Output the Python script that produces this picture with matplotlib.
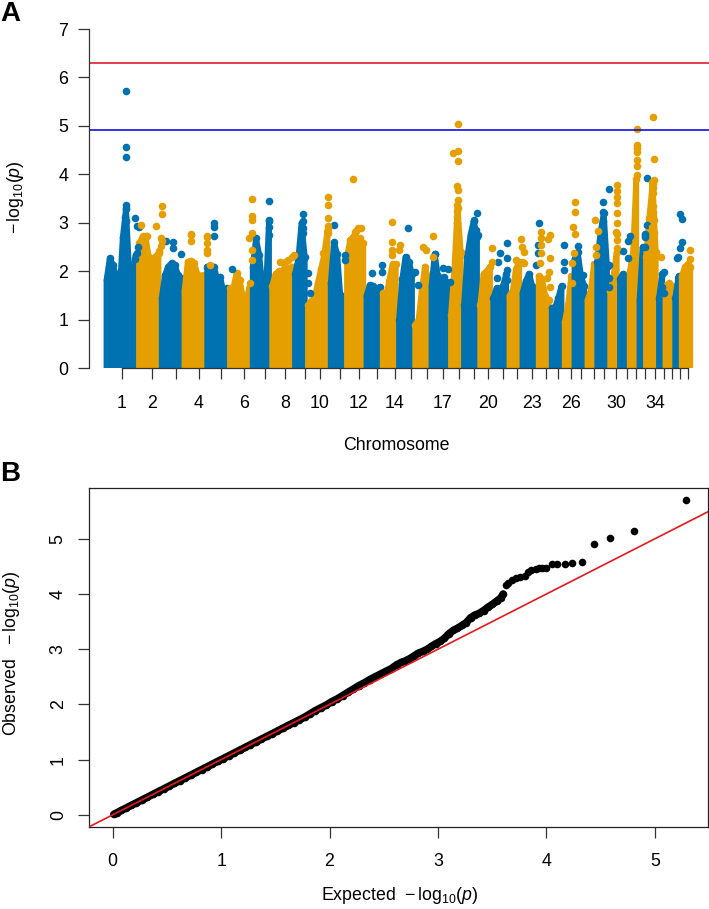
#!/bin/python3

# Manhattan plot and QQ plot.

import numpy as np
import matplotlib
matplotlib.use("Agg")
import matplotlib.pyplot as plt

plt.rcParams['font.family'] = ['Liberation Sans', 'DejaVu Sans']
plt.rcParams['mathtext.fontset'] = 'custom'
plt.rcParams['mathtext.rm'] = 'Liberation Sans'
plt.rcParams['mathtext.it'] = 'Liberation Sans:italic'
plt.rcParams['mathtext.bf'] = 'Liberation Sans:bold'

BLUE = '#0072B2'
ORANGE = '#E69F00'
DARK = '#333333'

# Chromosome sizes (Mb) and tick positions on the genome axis
chrom_len = [131, 96, 92, 96, 92, 84, 84, 80, 64, 80, 76, 72, 68, 68, 64, 64, 72, 56, 58, 62,
             54, 62, 56, 52, 56, 40, 48, 44, 46, 42, 40, 40, 32, 44, 32, 32, 32, 52]
chrom_ticks = [75, 195, 291, 383, 471, 563, 647, 727, 807, 867, 947, 1023, 1095, 1167, 1231,
               1295, 1359, 1423, 1483, 1539, 1599, 1655, 1715, 1771, 1819, 1871, 1911, 1963,
               2003, 2051, 2095, 2131, 2167, 2207, 2243, 2275, 2307, 2339]
chrom_labels = ['1', '2', '', '4', '', '6', '', '8', '', '10', '', '12', '', '14', '', '', '17',
                '', '', '20', '', '', '23', '', '', '26', '', '', '', '30', '', '', '', '34',
                '', '', '', '']

# Top of the dense cloud of SNPs along the genome
profile_pos = [13, 26, 39, 52, 65, 78, 91, 104, 117, 130, 143, 156, 169, 182, 195, 208, 221, 234,
               247, 260, 273, 286, 299, 312, 325, 338, 351, 364, 377, 390, 403, 416, 429, 442,
               455, 468, 481, 494, 507, 520, 533, 546, 559, 572, 585, 598, 611, 624, 637, 650,
               663, 676, 689, 702, 715, 728, 741, 754, 767, 780, 793, 806, 819, 832, 845, 858,
               871, 884, 897, 910, 923, 936, 949, 962, 975, 988, 1001, 1014, 1027, 1040, 1053,
               1066, 1079, 1092, 1105, 1118, 1131, 1144, 1157, 1170, 1183, 1196, 1209, 1222,
               1235, 1248, 1261, 1274, 1287, 1300, 1313, 1326, 1339, 1352, 1365, 1378, 1391,
               1404, 1417, 1430, 1443, 1456, 1469, 1482, 1495, 1508, 1521, 1534, 1547, 1560,
               1573, 1586, 1599, 1612, 1625, 1638, 1651, 1664, 1677, 1690, 1703, 1716, 1729,
               1742, 1755, 1768, 1781, 1794, 1807, 1820, 1833, 1846, 1859, 1872, 1885, 1898,
               1911, 1924, 1937, 1950, 1963, 1976, 1989, 2002, 2015, 2028, 2041, 2054, 2067,
               2080, 2093, 2106, 2119, 2132, 2145, 2158, 2171, 2184, 2197, 2210, 2223, 2236,
               2249, 2262, 2275, 2288, 2301, 2314, 2327, 2340, 2348]
profile_top = [1.82, 2.27, 2.13, 1.90, 1.51, 2.7, 3.3, 1.95, 1.93, 2.34,
               2.58, 2.68, 2.72, 2.3, 1.68, 2.3, 2.37,
               1.45, 1.93, 2.1, 2.17, 2.13, 1.93, 1.86,
               1.6, 2.2, 2.22, 2.17, 1.93, 1.9, 1.93,
               2.1, 2.1, 2.1, 1.86, 1.89, 1.55, 1.65,
               1.65, 1.65, 1.96, 1.82, 1.44, 1.41, 1.68,
               2.1, 2.68, 2.34, 1.65, 1.51, 3.05,
               1.7, 1.95, 2.0, 2.0, 2.1, 2.05, 2.1,
               1.95, 2.25, 3.0, 2.3,
               1.3, 1.38, 1.45, 1.75, 2.05, 2.35, 2.85,
               1.75, 2.6, 2.35, 1.45, 1.5,
               2.3, 2.65, 2.72, 2.68, 2.68, 2.58,
               1.5, 1.72, 1.7, 1.62, 1.68,
               1.55, 1.5, 1.8, 2.15, 2.15,
               1.0, 1.85, 2.3, 2.2, 1.95,
               0.9, 1.0, 1.6, 2.1, 1.85,
               1.7, 2.35, 1.9, 1.65, 1.8, 1.75,
               1.1, 2.0, 3.3, 2.4,
               1.3, 2.3, 2.75, 3.05, 2.7,
               1.3, 1.95, 2.0, 2.1,
               1.45, 1.65, 1.6, 1.7, 1.95,
               1.5, 1.6, 2.05, 2.2,
               1.55, 1.8, 1.95, 1.7, 1.45,
               1.9, 1.85, 1.5, 1.4,
               1.25, 1.25, 1.45, 1.7,
               0.95, 1.3, 1.9,
               2.25, 2.4, 1.9, 1.7,
               1.4, 1.6, 2.15,
               2.2, 2.8, 3.2, 2.1,
               1.6, 1.9, 2.4,
               1.85, 1.95, 1.85,
               2.0, 2.35, 3.9,
               1.4, 2.5,
               2.3, 3.1, 3.8, 2.4,
               1.45, 1.95,
               1.7, 1.75, 1.7,
               1.45, 1.9,
               1.9, 2.1, 2.15, 2.1]

# SNPs standing clear of the cloud
blue_pos = [91, 91, 91, 91, 91, 87, 91, 87, 127, 136, 144, 250, 278, 278, 311, 140, 127, 136,
            442, 442, 442, 514, 620, 664, 664, 664, 664, 798, 798, 798, 798, 923, 817, 820, 827,
            967, 967, 1073, 1116, 1116, 1220, 1247, 1260, 1327, 1360, 1380, 1363, 1387,
            1493, 1483, 1491, 1500, 1587, 1613, 1616, 1580, 1573, 1613, 1613,
            1741, 1740, 1740, 1731, 1843, 1843, 1843, 1900, 1920,
            2000, 2000, 2000, 2000, 2024, 2024, 2024, 2024, 2080, 2107, 2100, 2100,
            2173, 2173, 2167, 2167, 2167, 2167, 2243, 2233, 2243,
            2306, 2313, 2313, 2307, 2300, 2293]
blue_val = [5.73, 4.57, 4.35, 3.37, 3.28, 3.13, 3.03, 2.85, 3.11, 2.94, 2.92, 2.63, 2.61, 2.48,
            2.36, 2.51, 2.25, 2.37, 3.0, 2.92, 2.72, 2.04, 2.34, 3.45, 3.03, 2.92, 2.75,
            3.18, 3.03, 2.89, 2.8, 2.96, 1.96, 1.75, 1.56, 2.24, 2.34,
            1.96, 2.13, 1.99, 2.89, 1.99, 1.72, 2.35, 2.06, 2.05, 1.89, 1.79,
            3.2, 3.03, 2.85, 2.76, 2.37, 2.58, 2.27, 2.2, 1.86, 2.03, 1.82,
            3.0, 2.54, 2.37, 2.13, 2.54, 2.2, 2.03, 2.52, 1.93,
            3.43, 3.23, 3.03, 2.82, 3.69, 2.14, 1.86, 1.68, 2.43, 2.72, 2.62, 2.27,
            3.93, 2.96, 2.78, 2.75, 2.7, 2.5, 1.99, 1.68, 1.55,
            3.19, 3.07, 2.61, 2.48, 2.3, 2.27]
orange_pos = [150, 160, 173, 234, 234, 212, 231, 234, 231, 224, 349, 351, 349, 416, 413, 413, 416,
              416, 427, 596, 596, 596, 596, 584, 596, 596, 587, 707, 727, 740, 754, 763,
              900, 900, 900, 900, 900, 880, 999, 1007, 1020, 1156, 1009, 1031, 1156, 1156, 1156,
              1187, 1184, 1320, 1280, 1291, 1320,
              1420, 1420, 1400, 1420, 1416, 1417, 1420, 1416, 1416, 1414, 1414, 1416,
              1553, 1553, 1671, 1673, 1683, 1649, 1649, 1675, 1683,
              1751, 1751, 1751, 1751, 1747, 1787, 1780, 1787, 1783, 1776, 1787,
              1885, 1885, 1880, 1888, 1883, 1873, 1873, 1968, 1979, 1971, 1971,
              2053, 2053, 2053, 2053, 2053, 2053, 2051, 2053, 2053, 2053,
              2134, 2134, 2134, 2134, 2134, 2134, 2134,
              2200, 2204, 2203, 2193, 2197, 2200, 2193, 2200, 2200, 2197, 2203, 2193, 2203,
              2229, 2345, 2345]
orange_val = [2.96, 2.73, 2.73, 3.34, 3.18, 2.94, 2.68, 2.63, 2.52, 2.41, 2.76, 2.77, 2.63, 2.7,
              2.72, 2.59, 2.44, 2.37, 2.13, 3.49, 3.15, 3.05, 2.79, 2.68, 2.44, 2.24, 1.75,
              2.2, 2.2, 2.24, 2.3, 2.34, 3.53, 3.36, 3.11, 2.94, 2.79, 2.37,
              3.9, 2.82, 2.89, 3.01, 2.84, 2.89, 2.61, 2.44, 2.34, 2.54, 2.44, 2.73, 2.51, 2.44, 2.3,
              5.03, 4.49, 4.44, 4.28, 3.76, 3.67, 3.47, 3.37, 3.25, 3.13, 2.99, 2.79,
              2.48, 2.2, 2.66, 2.51, 2.39, 2.24, 1.99, 2.2, 2.17,
              2.82, 2.68, 2.54, 2.37, 2.17, 2.75, 2.66, 2.27, 1.99, 1.86, 1.68,
              3.44, 3.22, 2.92, 2.78, 2.37, 2.17, 1.77, 3.05, 2.84, 2.51, 2.34,
              3.79, 3.65, 3.54, 3.42, 3.2, 2.99, 2.82, 2.78, 2.65, 2.48,
              4.93, 4.61, 4.54, 4.46, 4.3, 4.18, 3.99,
              5.18, 4.31, 3.89, 3.85, 3.71, 3.61, 3.47, 3.34, 3.23, 3.13, 3.06, 2.92, 2.79,
              2.29, 2.44, 2.26]

genomewide_line = 6.29
suggestive_line = 4.91

# QQ plot: expected and observed -log10(p)
qq_expected = [0.01, 0.04, 0.08, 0.12, 0.17, 0.22, 0.27, 0.32, 0.37, 0.42, 0.47, 0.52, 0.57, 0.62,
               0.67, 0.72, 0.77, 0.82, 0.87, 0.92, 0.97, 1.02, 1.07, 1.12, 1.17, 1.22, 1.27, 1.32,
               1.37, 1.42, 1.47, 1.52, 1.57, 1.62, 1.67, 1.72, 1.77, 1.82, 1.87, 1.92, 1.97, 2.02,
               2.07, 2.12, 2.17, 2.22, 2.27, 2.32, 2.37, 2.42, 2.47, 2.52, 2.57, 2.62, 2.66, 2.70,
               2.74, 2.78, 2.82, 2.86, 2.90, 2.94, 2.98, 3.02, 3.06, 3.10, 3.14, 3.18, 3.22, 3.26,
               3.30, 3.34, 3.38, 3.42, 3.46, 3.50, 3.54, 3.58, 3.60, 3.63, 3.65, 3.68, 3.72, 3.76,
               3.80, 3.83, 3.86, 3.90, 3.93, 3.96, 4.00, 4.05, 4.10, 4.17, 4.24, 4.33, 4.44, 4.585,
               4.806, 5.285]
qq_observed = [0.01, 0.04, 0.08, 0.12, 0.17, 0.22, 0.27, 0.32, 0.37, 0.42, 0.47, 0.52, 0.57, 0.62,
               0.67, 0.72, 0.77, 0.82, 0.87, 0.92, 0.97, 1.02, 1.07, 1.12, 1.17, 1.22, 1.27, 1.32,
               1.37, 1.42, 1.47, 1.52, 1.57, 1.62, 1.67, 1.72, 1.77, 1.83, 1.89, 1.94, 1.99, 2.05,
               2.10, 2.16, 2.22, 2.28, 2.34, 2.39, 2.45, 2.50, 2.55, 2.60, 2.65, 2.72, 2.76, 2.79,
               2.83, 2.88, 2.93, 2.96, 3.00, 3.05, 3.10, 3.14, 3.20, 3.28, 3.34, 3.38, 3.43, 3.48,
               3.57, 3.62, 3.65, 3.70, 3.76, 3.81, 3.87, 3.93, 4.00, 4.16, 4.20, 4.26, 4.29, 4.31,
               4.32, 4.40, 4.43, 4.45, 4.47, 4.47, 4.48, 4.535, 4.54, 4.55, 4.56, 4.575, 4.905, 5.01,
               5.15, 5.70]
qq_band_points = 79  # points up to here overlap into one solid band


def px_axes(fig, left, top, right, bottom):
    w, h = fig.get_size_inches() * fig.dpi
    return fig.add_axes([left / w, 1 - bottom / h, (right - left) / w, (bottom - top) / h])


def draw_manhattan(ax):
    ends = np.cumsum(chrom_len)
    pos = np.array(profile_pos)
    top = np.array(profile_top)
    chrom = np.searchsorted(ends, pos, side='right')
    for c in range(len(chrom_len)):
        m = chrom == c
        colour = BLUE if c % 2 == 0 else ORANGE
        # outline of the cloud, with a dot on each sampled top so the edge stays lumpy
        xs = np.r_[pos[m][0], pos[m], pos[m][-1]]
        ys = np.r_[0, top[m], 0]
        ax.fill(xs, ys, facecolor=colour, edgecolor=colour, lw=4.2, joinstyle='round',
                zorder=2 + c * 0.01)
        ax.scatter(pos[m], top[m], s=30, c=colour, linewidths=0, zorder=2 + c * 0.01)
    ax.scatter(blue_pos, blue_val, s=30, c=BLUE, linewidths=0, zorder=3)
    ax.scatter(orange_pos, orange_val, s=30, c=ORANGE, linewidths=0, zorder=3.1)
    ax.axhline(genomewide_line, color='#E41A2C', lw=1.2, zorder=4)
    ax.axhline(suggestive_line, color='#1010E0', lw=1.2, zorder=4)

    ax.set_xlim(-57, 2423)
    ax.set_ylim(0, 7)
    for s in ('top', 'right'):
        ax.spines[s].set_visible(False)
    ax.spines['left'].set_bounds(0, 7)
    ax.spines['bottom'].set_bounds(chrom_ticks[0], chrom_ticks[-1])
    for s in ('left', 'bottom'):
        ax.spines[s].set_color(DARK)
        ax.spines[s].set_linewidth(0.9)
        ax.spines[s].set_zorder(5)
    ax.set_xticks(chrom_ticks)
    ax.set_xticklabels(chrom_labels)
    ax.set_yticks(range(8))
    ax.tick_params(axis='x', length=8, width=0.9, color=DARK, pad=11, labelsize=12.8)
    ax.tick_params(axis='y', length=8, width=0.9, color=DARK, pad=7, labelsize=12.8)


def draw_qq(ax):
    ax.plot(qq_expected[:qq_band_points], qq_observed[:qq_band_points], color='black', lw=5.4,
            solid_capstyle='round', zorder=2)
    ax.scatter(qq_expected, qq_observed, s=30, c='black', linewidths=0, zorder=2)
    ax.plot([-0.3, 6], [-0.3, 6], color='#E41A1C', lw=1.2, zorder=3)
    ax.set_xlim(-0.218, 5.49)
    ax.set_ylim(-0.22, 5.92)
    ax.set_xticks(range(6))
    ax.set_yticks(range(6))
    ax.tick_params(axis='x', length=8, width=0.9, color=DARK, pad=11, labelsize=12.8)
    ax.tick_params(axis='y', length=8, width=0.9, color=DARK, pad=8, labelsize=12.8)
    plt.setp(ax.get_yticklabels(), rotation=90, va='center')
    for s in ax.spines.values():
        s.set_color('#222222')
        s.set_linewidth(0.9)


def main():
    fig = plt.figure(figsize=(7.09, 9.09), dpi=100)
    w, h = fig.get_size_inches() * fig.dpi

    ax_a = px_axes(fig, 89, 29, 709, 368.3)
    draw_manhattan(ax_a)
    ax_b = px_axes(fig, 89, 488, 708, 827)
    draw_qq(ax_b)

    log_label = r'$-\,\mathrm{log}_{10}(\mathit{p})$'
    fig.text(396 / w, 1 - 445 / h, 'Chromosome', ha='center', va='center', fontsize=12.8)
    fig.text(16 / w, 1 - 197 / h, log_label, rotation=90, ha='center', va='center', fontsize=12.8)
    fig.text(12 / w, 1 - 653 / h, 'Observed   ' + log_label, rotation=90, ha='center', va='center',
             fontsize=12.8)
    fig.text(400 / w, 1 - 896 / h, 'Expected  ' + log_label, ha='center', va='center', fontsize=12.8)
    fig.text(0 / w, 1 - 21 / h, 'A', fontsize=20, fontweight='bold', ha='left', va='baseline')
    fig.text(0 / w, 1 - 481 / h, 'B', fontsize=20, fontweight='bold', ha='left', va='baseline')

    fig.savefig('out.png', dpi=100)


if __name__ == "__main__":
    main()
